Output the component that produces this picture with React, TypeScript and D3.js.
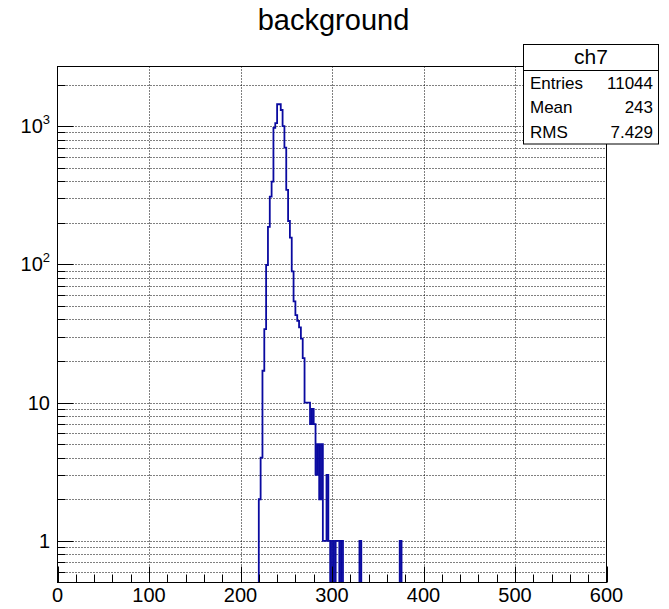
import React from 'react';
import * as d3 from 'd3';

// Histogram "ch7": 300 bins of width 2 over [0, 600]; only non-empty bins listed
const binLow = [220, 222, 224, 226, 228, 230, 232, 234, 236, 238, 240, 242, 244, 246, 248, 250, 252, 254, 256, 258, 260, 262, 264, 266, 268, 270, 272, 274, 276, 278, 280, 282, 284, 286, 288, 290, 292, 294, 296, 300, 304, 306, 310, 330, 374];
const binCount = [2, 4, 17, 34, 99, 187, 309, 397, 970, 1050, 1440, 1440, 1308, 1000, 700, 346, 206, 156, 89, 54, 43, 39, 35, 29, 21, 10, 10, 10, 7, 9, 7, 3, 5, 2, 5, 1, 1, 3, 1, 1, 1, 1, 1, 1, 1];

const xTickValues = [0, 100, 200, 300, 400, 500, 600];
const yDecades = [1, 10, 100, 1000];
const yDecadeBase = ['1', '10', '10', '10'];
const yDecadeExp = ['', '', '2', '3'];

const chartTitle = 'background';
const statsTitle = 'ch7';
const statsLabels = ['Entries', 'Mean', 'RMS'];
const statsValues = ['11044', '243', '7.429'];

const FONT = '"Liberation Sans", Arial, Helvetica, sans-serif';

export default function App() {
  const W = 669, H = 609;
  const fl = 57.5, fr = 606.5, ft = 66.5, fb = 582.5;
  const nBins = 300, bw = 2;

  const x = d3.scaleLinear().domain([0, 600]).range([fl, fr]);
  const y = d3.scaleLog().domain([0.5, 2700]).range([fb, ft]);

  const counts: number[] = new Array(nBins).fill(0);
  binLow.forEach((lo, i) => { counts[Math.round(lo / bw)] = binCount[i]; });
  const pts: [number, number][] = counts.map((c, i) => [i * bw, c] as [number, number]);
  pts.push([600, counts[nBins - 1]]);
  const line = d3.line<[number, number]>()
    .x(d => x(d[0]))
    .y(d => (d[1] > 0 ? y(d[1]) : fb + 2))
    .curve(d3.curveStepAfter);
  const histPath = line(pts) || '';

  const yTicks = y.ticks().filter(v => v > 0.5 + 1e-9 && v < 2700);
  const isMajorY = (v: number) => Math.abs(Math.log10(v) - Math.round(Math.log10(v))) < 1e-6;
  const xMinor = d3.range(0, 601, 20);

  const majorLen = 16, minorLen = 8;

  const sbL = 523.5, sbR = 658.5, sbT = 44.5, sbDiv = 70.5, rowH = 24.5;
  const sbB = sbDiv + rowH * 3;

  return (
    <svg width={W} height={H} style={{ position: 'absolute', left: 0, top: 0, background: '#fff' }}>
      <defs>
        <clipPath id="frameClip">
          <rect x={fl} y={ft} width={fr - fl} height={fb - ft} />
        </clipPath>
      </defs>
      <rect x={0} y={0} width={W} height={H} fill="#fff" />
      {/* grid */}
      <g stroke="#000" strokeWidth={1} strokeDasharray="1 2" fill="none">
        {xTickValues.filter(v => v > 0 && v < 600).map(v => (
          <line key={'gx' + v} x1={Math.round(x(v)) + 0.5} x2={Math.round(x(v)) + 0.5} y1={ft} y2={fb} />
        ))}
        {yTicks.map(v => (
          <line key={'gy' + v} x1={fl} x2={fr} y1={Math.round(y(v)) + 0.5} y2={Math.round(y(v)) + 0.5} />
        ))}
      </g>
      {/* histogram */}
      <path d={histPath} fill="none" stroke="#0a0aa0" strokeWidth={1.8} clipPath="url(#frameClip)" />
      {/* frame */}
      <rect x={fl} y={ft} width={fr - fl} height={fb - ft} fill="none" stroke="#000" strokeWidth={1} />
      {/* ticks */}
      <g stroke="#000" strokeWidth={1}>
        {xMinor.map(v => {
          const major = v % 100 === 0;
          const xx = Math.round(x(v)) + 0.5;
          return <line key={'xt' + v} x1={xx} x2={xx} y1={fb} y2={fb - (major ? majorLen : minorLen)} />;
        })}
        {yTicks.map(v => {
          const yy = Math.round(y(v)) + 0.5;
          return <line key={'yt' + v} x1={fl} x2={fl + (isMajorY(v) ? majorLen : minorLen)} y1={yy} y2={yy} />;
        })}
      </g>
      {/* x labels */}
      <g fontFamily={FONT} fontSize={20} fill="#000" textAnchor="middle">
        {xTickValues.map(v => (
          <text key={'xl' + v} x={x(v)} y={602}>{v}</text>
        ))}
      </g>
      {/* y labels */}
      <g fontFamily={FONT} fontSize={20} fill="#000" textAnchor="end">
        {yDecades.map((v, i) => (
          <text key={'yl' + v} x={50} y={y(v) + 7}>
            {yDecadeBase[i]}
            {yDecadeExp[i] ? <tspan fontSize={13} dy={-9}>{yDecadeExp[i]}</tspan> : null}
          </text>
        ))}
      </g>
      {/* title */}
      <text x={333.5} y={30} fontFamily={FONT} fontSize={29} textAnchor="middle" fill="#000">{chartTitle}</text>
      {/* stats box */}
      <g>
        <rect x={sbL} y={sbT} width={sbR - sbL} height={sbB - sbT} fill="#fff" stroke="#000" strokeWidth={1} />
        <line x1={sbL} x2={sbR} y1={sbDiv} y2={sbDiv} stroke="#000" strokeWidth={1} />
        <text x={(sbL + sbR) / 2} y={64} fontFamily={FONT} fontSize={21} textAnchor="middle">{statsTitle}</text>
        {statsLabels.map((s, i) => (
          <g key={s} fontFamily={FONT} fontSize={17}>
            <text x={530} y={sbDiv + rowH * (i + 0.5) + 6}>{s}</text>
            <text x={653} y={sbDiv + rowH * (i + 0.5) + 6} textAnchor="end">{statsValues[i]}</text>
          </g>
        ))}
      </g>
    </svg>
  );
}
